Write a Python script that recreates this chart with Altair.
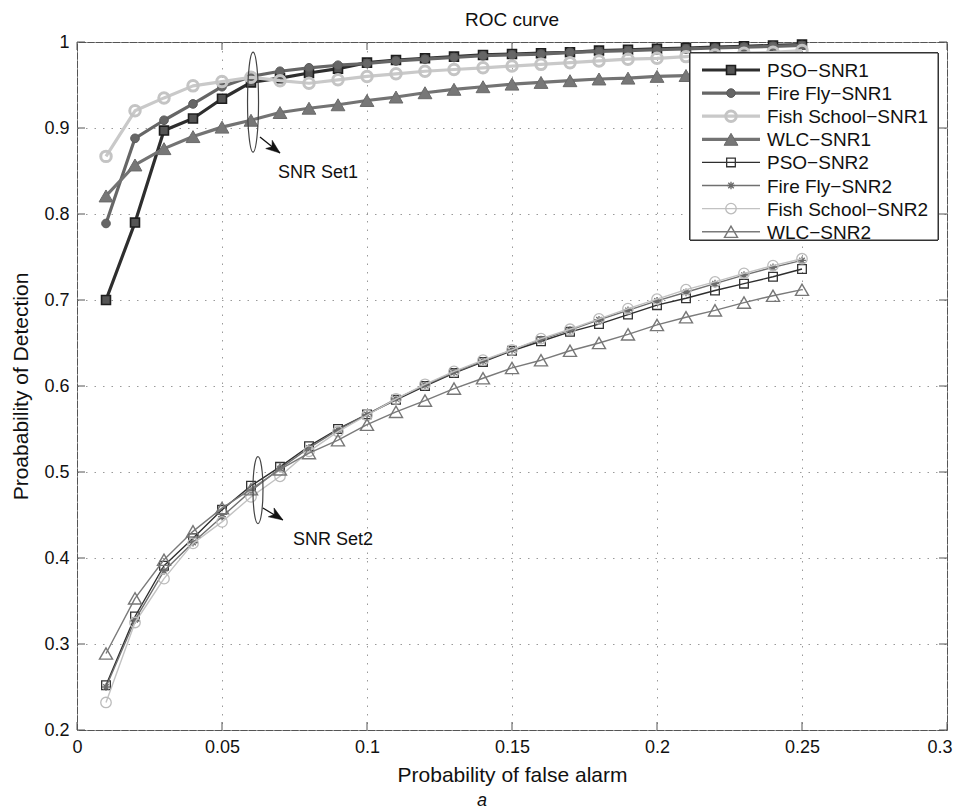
import altair as alt
import pandas as pd

FONT = "Liberation Sans"

# ---------------- data ----------------
pfa = [0.01, 0.02, 0.03, 0.04, 0.05, 0.06, 0.07, 0.08, 0.09, 0.10,
       0.11, 0.12, 0.13, 0.14, 0.15, 0.16, 0.17, 0.18, 0.19, 0.20,
       0.21, 0.22, 0.23, 0.24, 0.25]

pso_snr1 = [0.700, 0.790, 0.897, 0.911, 0.934, 0.953, 0.958, 0.964, 0.969, 0.976,
            0.979, 0.981, 0.983, 0.985, 0.986, 0.987, 0.988, 0.990, 0.991, 0.992,
            0.993, 0.994, 0.995, 0.996, 0.997]
ff_snr1 = [0.789, 0.888, 0.909, 0.928, 0.948, 0.960, 0.966, 0.970, 0.973, 0.975,
           0.978, 0.980, 0.982, 0.984, 0.985, 0.986, 0.988, 0.989, 0.990, 0.991,
           0.992, 0.993, 0.994, 0.995, 0.996]
fs_snr1 = [0.867, 0.920, 0.935, 0.949, 0.954, 0.959, 0.955, 0.952, 0.956, 0.960,
           0.963, 0.966, 0.968, 0.970, 0.972, 0.974, 0.976, 0.978, 0.980, 0.981,
           0.983, 0.985, 0.987, 0.988, 0.990]
wlc_snr1 = [0.821, 0.857, 0.876, 0.890, 0.901, 0.909, 0.918, 0.923, 0.927, 0.932,
            0.936, 0.941, 0.945, 0.948, 0.951, 0.953, 0.955, 0.957, 0.958, 0.960,
            0.961, 0.962, 0.963, 0.964, 0.966]
pso_snr2 = [0.252, 0.332, 0.391, 0.423, 0.456, 0.484, 0.506, 0.530, 0.550, 0.567,
            0.584, 0.600, 0.615, 0.628, 0.641, 0.652, 0.663, 0.672, 0.683, 0.694,
            0.702, 0.711, 0.719, 0.727, 0.736]
ff_snr2 = [0.250, 0.328, 0.385, 0.418, 0.448, 0.478, 0.504, 0.528, 0.549, 0.567,
           0.585, 0.601, 0.616, 0.629, 0.642, 0.654, 0.665, 0.677, 0.688, 0.699,
           0.709, 0.719, 0.729, 0.738, 0.746]
fs_snr2 = [0.232, 0.325, 0.376, 0.417, 0.442, 0.471, 0.495, 0.524, 0.547, 0.566,
           0.585, 0.602, 0.617, 0.630, 0.642, 0.655, 0.666, 0.678, 0.690, 0.701,
           0.712, 0.721, 0.731, 0.740, 0.748]
wlc_snr2 = [0.289, 0.353, 0.398, 0.431, 0.458, 0.480, 0.503, 0.522, 0.537, 0.555,
            0.570, 0.583, 0.597, 0.609, 0.621, 0.630, 0.641, 0.650, 0.660, 0.671,
            0.680, 0.688, 0.697, 0.705, 0.712]

series_names = ["PSO−SNR1", "Fire Fly−SNR1", "Fish School−SNR1", "WLC−SNR1",
                "PSO−SNR2", "Fire Fly−SNR2", "Fish School−SNR2", "WLC−SNR2"]
series_values = [pso_snr1, ff_snr1, fs_snr1, wlc_snr1,
                 pso_snr2, ff_snr2, fs_snr2, wlc_snr2]

x_ticks = [0, 0.05, 0.1, 0.15, 0.2, 0.25, 0.3]
y_ticks = [0.2, 0.3, 0.4, 0.5, 0.6, 0.7, 0.8, 0.9, 1.0]

annot_labels = ["SNR Set1", "SNR Set2"]
annot_text_x = [0.0693, 0.0745]
annot_text_y = [0.848, 0.421]
ellipse_x = [0.0607, 0.0624]
ellipse_y = [0.930, 0.479]
arrow_x0 = [0.0631, 0.0641]
arrow_y0 = [0.8895, 0.4581]
arrow_x1 = [0.0700, 0.0710]
arrow_y1 = [0.8709, 0.4442]

# ---------------- styles ----------------
ASTER = "M-1,0L1,0M0,-1L0,1M-0.7,-0.7L0.7,0.7M-0.7,0.7L0.7,-0.7"
styles = [
    dict(line="#2e2e2e", lw=3.2, shape="square", size=80, filled=True, fill="#555555", stroke="#1e1e1e", sw=1.6),
    dict(line="#666666", lw=3.2, shape="circle", size=75, filled=True, fill="#666666", stroke="#5a5a5a", sw=1.0),
    dict(line="#c9c9c9", lw=3.2, shape="circle", size=110, filled=False, fill="white", stroke="#c4c4c4", sw=3.0),
    dict(line="#737373", lw=3.2, shape="triangle-up", size=190, filled=True, fill="#777777", stroke="#6a6a6a", sw=1.0),
    dict(line="#2e2e2e", lw=1.4, shape="square", size=75, filled=False, fill="white", stroke="#333333", sw=1.3),
    dict(line="#707070", lw=1.4, shape=ASTER, size=60, filled=False, fill="white", stroke="#6a6a6a", sw=1.3),
    dict(line="#c2c2c2", lw=1.4, shape="circle", size=110, filled=False, fill="white", stroke="#bbbbbb", sw=1.3),
    dict(line="#7a7a7a", lw=1.4, shape="triangle-up", size=170, filled=False, fill="white", stroke="#777777", sw=1.4),
]

W, H = 870, 688
xscale = alt.Scale(domain=[0, 0.3], nice=False, zero=False)
yscale = alt.Scale(domain=[0.2, 1.0], nice=False, zero=False)

xax = alt.Axis(values=x_ticks, format=".2~f", title="Probability of false alarm",
               grid=True, labelFlush=True, labelFlushOffset=5, labelOverlap=False)
yax = alt.Axis(values=y_ticks, format=".1~f", title="Proabability of Detection",
               grid=True, labelFlush=False, labelOverlap=False)

layers = []

# inward tick marks (MATLAB style box axes)
xt = pd.DataFrame({"x": x_ticks})
yt = pd.DataFrame({"y": y_ticks})
tick_col = "#555555"
layers.append(alt.Chart(xt).mark_rule(color=tick_col, strokeWidth=1).encode(
    x=alt.X("x:Q", scale=xscale, axis=xax), y=alt.value(H), y2=alt.value(H - 8)))
layers.append(alt.Chart(xt).mark_rule(color=tick_col, strokeWidth=1).encode(
    x=alt.X("x:Q", scale=xscale, axis=xax), y=alt.value(0), y2=alt.value(8)))
layers.append(alt.Chart(yt).mark_rule(color=tick_col, strokeWidth=1).encode(
    y=alt.Y("y:Q", scale=yscale, axis=yax), x=alt.value(0), x2=alt.value(8)))
layers.append(alt.Chart(yt).mark_rule(color=tick_col, strokeWidth=1).encode(
    y=alt.Y("y:Q", scale=yscale, axis=yax), x=alt.value(W), x2=alt.value(W - 8)))

for name, vals, st in zip(series_names, series_values, styles):
    df = pd.DataFrame({"x": pfa, "y": vals})
    base = alt.Chart(df).encode(x=alt.X("x:Q", scale=xscale, axis=xax),
                                y=alt.Y("y:Q", scale=yscale, axis=yax))
    layers.append(base.mark_line(color=st["line"], strokeWidth=st["lw"], strokeJoin="round"))
    layers.append(base.mark_point(shape=st["shape"], size=st["size"], filled=st["filled"],
                                  fill=st["fill"], stroke=st["stroke"], strokeWidth=st["sw"],
                                  opacity=1, fillOpacity=1 if st["filled"] else 0))

# annotations: ellipses, arrows, labels
ell_paths = ["M0,-1A0.11,1,0,1,1,0,1A0.11,1,0,1,1,0,-1Z",
             "M0,-1A0.15,1,0,1,1,0,1A0.15,1,0,1,1,0,-1Z"]
ell_sizes = [10000, 4489]
arrow_angles = [38, 33]
ARROW = "M0,0L-2,-0.75L-1.45,0L-2,0.75Z"
for i in range(2):
    edf = pd.DataFrame({"x": [ellipse_x[i]], "y": [ellipse_y[i]]})
    layers.append(alt.Chart(edf).mark_point(shape=ell_paths[i], size=ell_sizes[i], filled=False,
                                            stroke="#444444", strokeWidth=1.2, opacity=1).encode(
        x=alt.X("x:Q", scale=xscale, axis=xax), y=alt.Y("y:Q", scale=yscale, axis=yax)))
    adf = pd.DataFrame({"x0": [arrow_x0[i]], "y0": [arrow_y0[i]],
                        "x1": [arrow_x1[i]], "y1": [arrow_y1[i]]})
    layers.append(alt.Chart(adf).mark_rule(color="#111111", strokeWidth=1.3).encode(
        x=alt.X("x0:Q", scale=xscale, axis=xax), y=alt.Y("y0:Q", scale=yscale, axis=yax),
        x2="x1:Q", y2="y1:Q"))
    layers.append(alt.Chart(adf).mark_point(shape=ARROW, size=196, filled=True, fill="#111111",
                                            stroke="#111111", strokeWidth=0.5, opacity=1,
                                            angle=arrow_angles[i]).encode(
        x=alt.X("x1:Q", scale=xscale, axis=xax), y=alt.Y("y1:Q", scale=yscale, axis=yax)))
    tdf = pd.DataFrame({"x": [annot_text_x[i]], "y": [annot_text_y[i]], "t": [annot_labels[i]]})
    layers.append(alt.Chart(tdf).mark_text(align="left", baseline="middle", font=FONT,
                                           fontSize=18, color="#111111").encode(
        x=alt.X("x:Q", scale=xscale, axis=xax), y=alt.Y("y:Q", scale=yscale, axis=yax),
        text="t:N"))

# legend box
LX0, LX1, LY0, LY1 = 613, 861, 11, 198
layers.append(alt.Chart(xt).mark_rect(fill="white", stroke="#333333", strokeWidth=1).encode(
    x=alt.value(LX0), x2=alt.value(LX1), y=alt.value(LY0), y2=alt.value(LY1)))
row0, dy = 28, 23.1
for i, (name, st) in enumerate(zip(series_names, styles)):
    yy = row0 + i * dy
    one = pd.DataFrame({"t": [name]})
    layers.append(alt.Chart(one).mark_rule(color=st["line"], strokeWidth=st["lw"]).encode(
        x=alt.value(625), x2=alt.value(683), y=alt.value(yy)))
    layers.append(alt.Chart(one).mark_point(shape=st["shape"], size=st["size"], filled=st["filled"],
                                            fill=st["fill"], stroke=st["stroke"], strokeWidth=st["sw"],
                                            opacity=1, fillOpacity=1 if st["filled"] else 0).encode(
        x=alt.value(654), y=alt.value(yy)))
    layers.append(alt.Chart(one).mark_text(align="left", baseline="middle", font=FONT,
                                           fontSize=19, color="#111111").encode(
        x=alt.value(690), y=alt.value(yy + 1), text="t:N"))

# caption
cap = pd.DataFrame({"t": ["a"]})
layers.append(alt.Chart(cap).mark_text(align="center", baseline="middle", font=FONT,
                                       fontSize=18, fontStyle="italic", color="#111111").encode(
    x=alt.value(405), y=alt.value(759), text="t:N"))

chart = alt.layer(*layers).properties(
    width=W, height=H,
    title=alt.TitleParams("ROC curve", font=FONT, fontSize=19, fontWeight="normal",
                          color="#111111", anchor="middle", offset=3),
    autosize=alt.AutoSizeParams(type="none"),
    padding={"left": 69, "top": 34, "right": 9, "bottom": 80},
).configure_view(
    stroke="#555555", strokeWidth=1
).configure_axis(
    domain=False, ticks=False, grid=True, gridColor="#9a9a9a", gridDash=[1.5, 7],
    gridWidth=1, labelFont=FONT, labelFontSize=18, labelColor="#111111", labelPadding=8,
    titleFont=FONT, titleFontSize=21, titleFontWeight="normal", titleColor="#111111"
).configure_axisX(titlePadding=8).configure_axisY(titlePadding=12)

chart.save("out.html", embed_options={"renderer": "svg", "actions": False})
